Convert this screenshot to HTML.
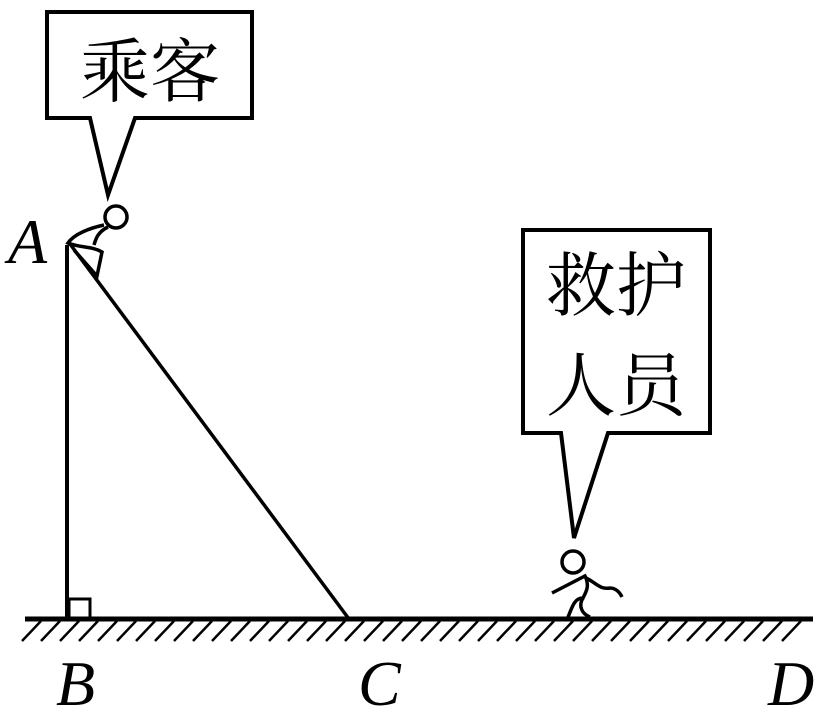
<!DOCTYPE html>
<html><head><meta charset="utf-8"><style>
html,body{margin:0;padding:0;background:#fff}
svg{display:block}
.t{font-family:"Liberation Serif","Noto Serif CJK SC",serif;font-size:70px}
.l{font-family:"Liberation Serif",serif;font-style:italic;font-size:64px}
</style></head><body>
<svg width="827" height="726" viewBox="0 0 827 726" xmlns="http://www.w3.org/2000/svg">
<g fill="none" stroke="#000" stroke-width="4" stroke-linejoin="miter">
<path d="M47 12 H252 V118 H135 L108 195 L90 118 H47 Z" fill="#fff"/>
<path d="M523 230 H710 V433 H608 L574 538 L561 433 H523 Z" fill="#fff"/>
<line x1="25" y1="619" x2="813" y2="619" stroke-width="5"/>
<line x1="67" y1="245" x2="67" y2="619"/>
<line x1="70" y1="244" x2="349" y2="619" stroke-width="3.5"/>
<path d="M69 617 V599 H90 V617" stroke-width="3"/>
<circle cx="116" cy="217" r="11" stroke-width="3.5"/>
<path d="M104 225 C90 228 74 234 68 243 C80 248 92 246 102 252 L97 276 L74 250" stroke-width="3.5"/>
<path d="M108 227 C98 232 96 238 94 245" stroke-width="3.5"/>
<circle cx="573" cy="562" r="11" stroke-width="3.5"/>
<path d="M552 593 L585 576 C590 586 586 592 583 598 C574 598 572 608 568 617" stroke-width="3.5"/>
<path d="M583 598 C578 606 582 614 590 617" stroke-width="3.5"/>
<path d="M586 578 C595 582 600 590 610 588 C616 588 620 593 622 597" stroke-width="3.5"/>
</g>
<g stroke="#000" stroke-width="2.5">
<path d="M22 641 L41 621 M41 641 L60 621 M60 641 L79 621 M79 641 L98 621 M98 641 L117 621 M117 641 L136 621 M136 641 L155 621 M155 641 L174 621 M174 641 L193 621 M193 641 L212 621 M212 641 L231 621 M231 641 L250 621 M250 641 L269 621 M269 641 L288 621 M288 641 L307 621 M307 641 L326 621 M326 641 L345 621 M345 641 L364 621 M364 641 L383 621 M383 641 L402 621 M402 641 L421 621 M421 641 L440 621 M440 641 L459 621 M459 641 L478 621 M478 641 L497 621 M497 641 L516 621 M516 641 L535 621 M535 641 L554 621 M554 641 L573 621 M573 641 L592 621 M592 641 L611 621 M611 641 L630 621 M630 641 L649 621 M649 641 L668 621 M668 641 L687 621 M687 641 L706 621 M706 641 L725 621 M725 641 L744 621 M744 641 L763 621 M763 641 L782 621 M782 641 L801 621"/>
</g>
<text class="t" x="80" y="96">乘客</text>
<text class="t" x="546" y="310">救护</text>
<text class="t" x="546" y="410">人员</text>
<text class="l" x="8" y="263">A</text>
<text class="l" x="56" y="705">B</text>
<text class="l" x="358" y="705">C</text>
<text class="l" x="768" y="705">D</text>
</svg>
</body></html>
